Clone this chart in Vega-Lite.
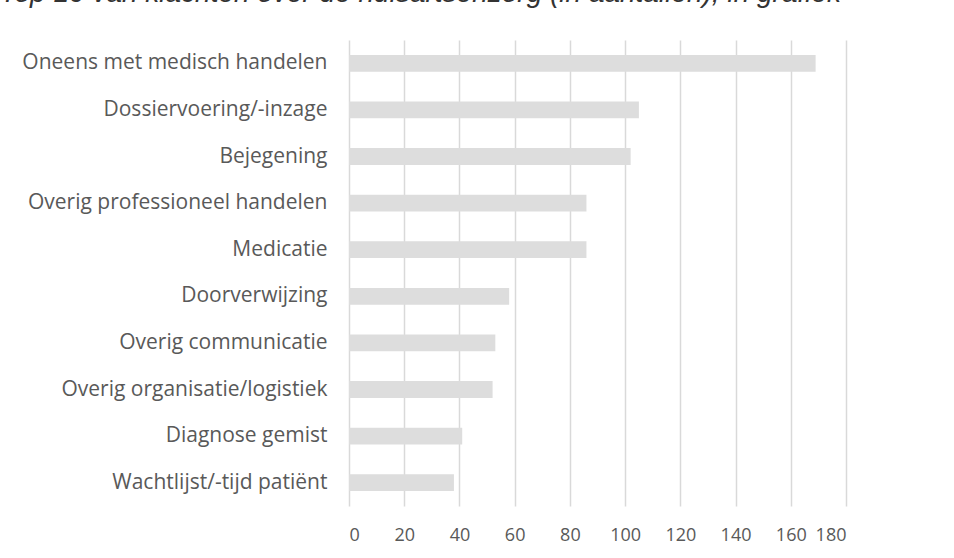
{
  "$schema": "https://vega.github.io/schema/vega-lite/v6.json",
  "autosize": "none",
  "width": 497,
  "height": 466,
  "padding": {"left": 349, "top": 40, "right": 108, "bottom": 52},
  "background": "white",
  "title": {
    "text": "Top 10 van klachten over de huisartsenzorg (in aantallen), in grafiek",
    "anchor": "start",
    "frame": "group",
    "dx": -349,
    "offset": 10,
    "baseline": "alphabetic",
    "font": "Liberation Sans",
    "fontStyle": "italic",
    "fontWeight": "normal",
    "fontSize": 28,
    "color": "#333333"
  },
  "data": {
    "values": [
      {"categorie": "Oneens met medisch handelen", "aantal": 169},
      {"categorie": "Dossiervoering/-inzage", "aantal": 105},
      {"categorie": "Bejegening", "aantal": 102},
      {"categorie": "Overig professioneel handelen", "aantal": 86},
      {"categorie": "Medicatie", "aantal": 86},
      {"categorie": "Doorverwijzing", "aantal": 58},
      {"categorie": "Overig communicatie", "aantal": 53},
      {"categorie": "Overig organisatie/logistiek", "aantal": 52},
      {"categorie": "Diagnose gemist", "aantal": 41},
      {"categorie": "Wachtlijst/-tijd patiënt", "aantal": 38}
    ]
  },
  "mark": {"type": "bar", "color": "#dddddd"},
  "encoding": {
    "y": {
      "field": "categorie",
      "type": "nominal",
      "sort": null,
      "scale": {"paddingInner": 0.64, "paddingOuter": 0.32},
      "axis": {
        "title": null,
        "domain": false,
        "ticks": false,
        "labelFont": "Open Sans",
        "labelFontSize": 21,
        "labelColor": "#595959",
        "labelPadding": 22,
        "labelLimit": 400
      }
    },
    "x": {
      "field": "aantal",
      "type": "quantitative",
      "scale": {"domain": [0, 180], "nice": false},
      "axis": {
        "title": null,
        "values": [0, 20, 40, 60, 80, 100, 120, 140, 160, 180],
        "domain": false,
        "ticks": false,
        "grid": true,
        "gridColor": "#d9d9d9",
        "gridWidth": 1.5,
        "labelFont": "Open Sans",
        "labelFontSize": 18,
        "labelColor": "#595959",
        "labelPadding": 20
      }
    }
  },
  "config": {"view": {"stroke": null}}
}
